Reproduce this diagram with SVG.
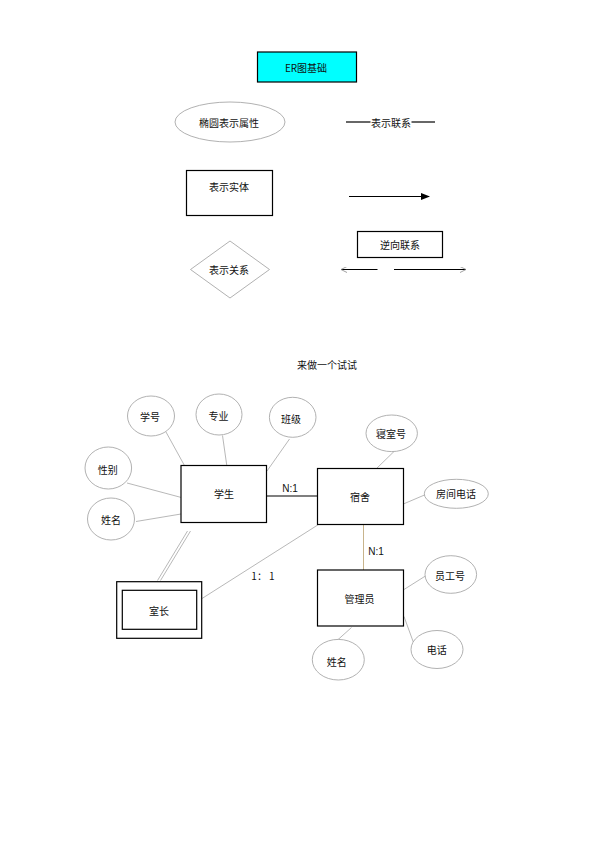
<svg xmlns="http://www.w3.org/2000/svg" width="595" height="842" viewBox="0 0 595 842">
<style>
text{font-family:"Noto Sans CJK SC","Liberation Sans",sans-serif;font-size:10px;fill:#111;text-anchor:middle;dominant-baseline:central}
.lat{font-family:"Liberation Sans","Noto Sans CJK SC",sans-serif}
.ent{fill:#fff;stroke:#000;stroke-width:1.2}
.att{fill:#fff;stroke:#a8a8a8;stroke-width:0.9}
.ln{stroke:#b0b0b0;stroke-width:0.9;fill:none}
.blk{stroke:#000;stroke-width:1.2;fill:none}
</style>
<defs>
<marker id="fa" markerWidth="9" markerHeight="7" refX="8" refY="3.5" orient="auto" markerUnits="userSpaceOnUse">
<path d="M0,0 L9,3.5 L0,7 Z" fill="#000"/>
</marker>
<marker id="oa" markerWidth="7" markerHeight="6" refX="6" refY="3" orient="auto" markerUnits="userSpaceOnUse">
<path d="M0,0 L6,3 L0,6" fill="none" stroke="#888" stroke-width="0.8"/>
</marker>
</defs>
<rect width="595" height="842" fill="#fff"/>

<!-- legend -->
<g id="title">
<rect x="257.5" y="52" width="99" height="30" fill="#00ffff" stroke="#000" stroke-width="1.2"/>
<text x="306" y="67">ER图基础</text>
</g>
<g id="legend-attr">
<ellipse cx="230" cy="122" rx="55" ry="20" class="att"/>
<text x="229" y="122">椭圆表示属性</text>
</g>
<g id="legend-rel-line">
<line x1="346" y1="122" x2="370.5" y2="122" class="blk" stroke-width="1"/>
<text x="391" y="122">表示联系</text>
<line x1="411.5" y1="122" x2="435" y2="122" class="blk" stroke-width="1"/>
</g>
<g id="legend-entity">
<rect x="186.5" y="170.5" width="86" height="45" class="ent"/>
<text x="229" y="186">表示实体</text>
</g>
<g id="legend-arrow">
<line x1="349" y1="196.5" x2="429" y2="196.5" class="blk" marker-end="url(#fa)"/>
</g>
<g id="legend-relation">
<polygon points="230,241 269.5,269.5 230,298 190.5,269.5" class="att"/>
<text x="229" y="269.5">表示关系</text>
</g>
<g id="legend-reverse">
<rect x="357.5" y="231.5" width="85" height="26" class="ent"/>
<text x="400" y="244">逆向联系</text>
<line x1="377.5" y1="269.5" x2="341" y2="269.5" class="blk" stroke-width="1" marker-end="url(#oa)"/>
<line x1="394" y1="269.5" x2="466" y2="269.5" class="blk" stroke-width="1" marker-end="url(#oa)"/>
</g>

<text x="327" y="364.5">来做一个试试</text>

<!-- connectors -->
<g id="connectors">
<line x1="166" y1="432" x2="185" y2="466.5" class="ln"/>
<line x1="222.5" y1="435.5" x2="227.5" y2="470.5" class="ln"/>
<line x1="289.5" y1="439" x2="267" y2="471" class="ln"/>
<line x1="127" y1="483" x2="187" y2="499" class="ln"/>
<line x1="136" y1="521.5" x2="181" y2="514" class="ln"/>
<line x1="266.5" y1="496" x2="317.5" y2="496" class="blk"/>
<line x1="187.5" y1="531" x2="157.5" y2="580.5" class="ln"/>
<line x1="190.5" y1="531" x2="160.5" y2="580.5" class="ln"/>
<line x1="318.5" y1="524.5" x2="202" y2="598.5" class="ln"/>
<line x1="394" y1="451.5" x2="375" y2="470" class="ln"/>
<line x1="428" y1="493.5" x2="401" y2="505" class="ln"/>
<line x1="363.5" y1="524.5" x2="363.5" y2="570" stroke="#c8b48c" stroke-width="1"/>
<line x1="427" y1="575" x2="404" y2="589.5" class="ln"/>
<line x1="404" y1="616.5" x2="414" y2="644" class="ln"/>
<line x1="351.5" y1="627.5" x2="337" y2="640.5" class="ln"/>
<text class="lat" x="290" y="488.5">N:1</text>
<text x="263" y="575">1： 1</text>
<text class="lat" x="376" y="551">N:1</text>
</g>

<!-- nodes -->
<g id="student">
<rect x="181" y="465.5" width="85.5" height="57" class="ent"/>
<text x="224" y="493.5">学生</text>
</g>
<g id="attr-xuehao">
<ellipse cx="151" cy="416" rx="23.5" ry="20" class="att"/>
<text x="150" y="416.5">学号</text>
</g>
<g id="attr-zhuanye">
<ellipse cx="219" cy="414.5" rx="23" ry="20.5" class="att"/>
<text x="218.5" y="415">专业</text>
</g>
<g id="attr-banji">
<ellipse cx="292.7" cy="417.3" rx="23.3" ry="20" class="att"/>
<text x="291" y="418">班级</text>
</g>
<g id="attr-xingbie">
<ellipse cx="108.3" cy="468" rx="23.3" ry="21" class="att"/>
<text x="107.7" y="469">性别</text>
</g>
<g id="attr-xingming1">
<ellipse cx="111" cy="519" rx="23.5" ry="21" class="att"/>
<text x="111" y="519.5">姓名</text>
</g>
<g id="dorm">
<rect x="317.5" y="468.5" width="86" height="56" class="ent"/>
<text x="360" y="496.5">宿舍</text>
</g>
<g id="attr-qinshihao">
<ellipse cx="391.7" cy="433.3" rx="25.7" ry="18.3" class="att"/>
<text x="391" y="433.5">寝室号</text>
</g>
<g id="attr-fangjiandianhua">
<ellipse cx="456.3" cy="493.8" rx="32" ry="14.5" class="att"/>
<text x="456" y="493.5">房间电话</text>
</g>
<g id="leader">
<rect x="116.7" y="581.7" width="85" height="56.6" class="ent"/>
<rect x="122.3" y="590.3" width="74.4" height="39" class="ent"/>
<text x="159" y="610">室长</text>
</g>
<g id="manager">
<rect x="317.5" y="570" width="86" height="56" class="ent"/>
<text x="359.5" y="598.5">管理员</text>
</g>
<g id="attr-yuangonghao">
<ellipse cx="450.8" cy="574.5" rx="25.8" ry="18.8" class="att"/>
<text x="450" y="575">员工号</text>
</g>
<g id="attr-dianhua">
<ellipse cx="437" cy="649.5" rx="26" ry="19" class="att"/>
<text x="436.7" y="649.5">电话</text>
</g>
<g id="attr-xingming2">
<ellipse cx="338.3" cy="659.7" rx="26" ry="20.3" class="att"/>
<text x="336.7" y="661">姓名</text>
</g>
</svg>
